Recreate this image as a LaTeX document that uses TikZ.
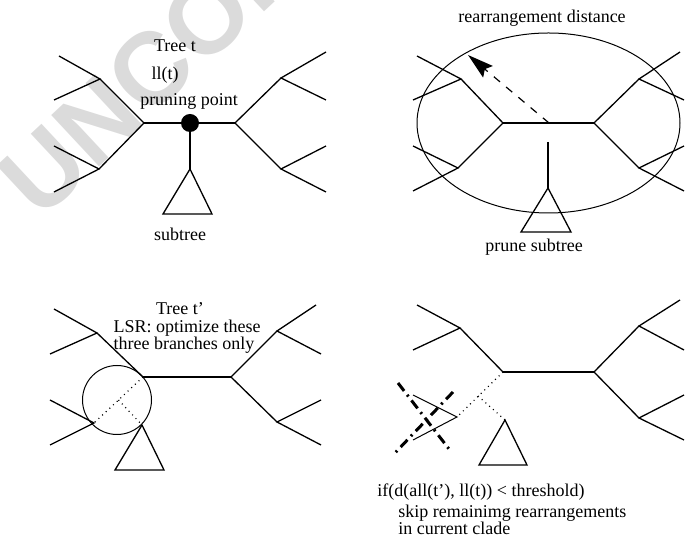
\documentclass[tikz,border=0pt]{standalone}
\usepackage{fontspec}
\setmainfont{Liberation Serif}
\newfontfamily\wmfont{Liberation Sans}
\usetikzlibrary{arrows.meta,shapes.geometric}
\begin{document}
\begin{tikzpicture}[x=0.5pt,y=-0.5pt,
  edge/.style={line width=0.65pt, line join=miter},
  outline/.style={line width=0.5pt},
  dots/.style={line width=0.6pt, dash pattern=on 0.5pt off 2pt},
  cross/.style={line width=1.5pt, dash pattern=on 5pt off 2.5pt on 1pt off 2.5pt},
  lbl/.style={font=\fontsize{9}{9}\selectfont, inner sep=0pt},
  wm/.style={font=\wmfont\bfseries\fontsize{51}{51}\selectfont, text=gray!28, inner sep=0pt}]
\useasboundingbox (0,0) rectangle (686,544);
% watermark
\begin{scope}
\clip (0,0) rectangle (686,544);
\node[wm, anchor=west, rotate=43] (wmark) at (16,196) {UNCORRECTED PROOF};
\end{scope}

% ---------- top-left: Tree t ----------
\coordinate (a1) at (144,123);
\coordinate (a2) at (235,123);
\coordinate (aLU) at (100,79);  \coordinate (aLUa) at (59,56);  \coordinate (aLUb) at (54,100);
\coordinate (aLL) at (99,169);  \coordinate (aLLa) at (54,146); \coordinate (aLLb) at (54,192);
\coordinate (aRU) at (281,78);  \coordinate (aRUa) at (326,52); \coordinate (aRUb) at (326,100);
\coordinate (aRL) at (281,169); \coordinate (aRLa) at (326,146); \coordinate (aRLb) at (326,192);
\coordinate (aT) at (190,169); \coordinate (aTb1) at (163,214); \coordinate (aTb2) at (212,214);
\node[circle, fill, inner sep=0pt, minimum size=9pt] (prune) at (190,123) {};
\draw[edge] (a1) -- (a2);
\draw[edge] (aLU) -- (a1) -- (aLL);
\draw[edge] (aRU) -- (a2) -- (aRL);
\draw[edge] (aLUa) -- (aLU) -- (aLUb);
\draw[edge] (aLLa) -- (aLL) -- (aLLb);
\draw[edge] (aRUa) -- (aRU) -- (aRUb);
\draw[edge] (aRLa) -- (aRL) -- (aRLb);
\draw[edge] (prune.center) -- (aT);
\draw[edge] (aT) -- (aTb1) -- (aTb2) -- cycle;
\node[lbl, anchor=base] (treet) at (175,52) {Tree t};
\node[lbl, anchor=base] (llt) at (165,80) {ll(t)};
\node[lbl, anchor=base] (pp) at (189,106) {pruning point};
\node[lbl, anchor=base] (sub) at (180,241) {subtree};

% ---------- top-right: prune subtree ----------
\coordinate (b1) at (503,123);
\coordinate (b2) at (594,123);
\coordinate (bLU) at (461,79);  \coordinate (bLUa) at (417,56);  \coordinate (bLUb) at (413,100);
\coordinate (bLL) at (458,168); \coordinate (bLLa) at (413,146); \coordinate (bLLb) at (413,191);
\coordinate (bRU) at (639,79);  \coordinate (bRUa) at (680,52);  \coordinate (bRUb) at (684,100);
\coordinate (bRL) at (639,168); \coordinate (bRLa) at (684,146); \coordinate (bRLb) at (684,191);
\coordinate (bV) at (548,142);
\coordinate (bT) at (548,188); \coordinate (bTb1) at (521,232); \coordinate (bTb2) at (571,232);
\coordinate (bA0) at (549,123); \coordinate (bA1) at (468,55);
\node[draw, outline, ellipse, minimum width=131.5pt, minimum height=90pt, inner sep=0pt] (ell) at (548.5,123) {};
\draw[edge] (b1) -- (b2);
\draw[edge] (bLU) -- (b1) -- (bLL);
\draw[edge] (bRU) -- (b2) -- (bRL);
\draw[edge] (bLUa) -- (bLU) -- (bLUb);
\draw[edge] (bLLa) -- (bLL) -- (bLLb);
\draw[edge] (bRUa) -- (bRU) -- (bRUb);
\draw[edge] (bRLa) -- (bRL) -- (bRLb);
\draw[edge] (bV) -- (bT);
\draw[edge] (bT) -- (bTb1) -- (bTb2) -- cycle;
\draw[line width=0.6pt, dash pattern=on 4pt off 4pt, -{Stealth[length=13pt,width=7.5pt,inset=2pt]}] (bA0) -- (bA1);
\node[lbl, anchor=base] (rd) at (542,23) {rearrangement distance};
\node[lbl, anchor=base] (ps) at (534,252) {prune subtree};

% ---------- bottom-left: Tree t' ----------
\coordinate (c1) at (143,377);
\coordinate (c2) at (231,377);
\coordinate (cLU) at (97,333);  \coordinate (cLUa) at (54,309);  \coordinate (cLUb) at (50,354);
\coordinate (cLL) at (94,423);  \coordinate (cLLa) at (50,400);  \coordinate (cLLb) at (50,445);
\coordinate (cRU) at (277,331); \coordinate (cRUa) at (316,305); \coordinate (cRUb) at (321,354);
\coordinate (cRL) at (277,422); \coordinate (cRLa) at (321,400); \coordinate (cRLb) at (321,445);
\coordinate (cM) at (118.5,400);
\coordinate (cT) at (142,425); \coordinate (cTb1) at (115,470); \coordinate (cTb2) at (164,470);
\node[draw, outline, circle, minimum size=34.5pt, inner sep=0pt] (circ) at (117,400) {};
\draw[edge] (c1) -- (c2);
\draw[edge] (cLU) -- (c1);
\draw[edge] (cRU) -- (c2) -- (cRL);
\draw[edge] (cLUa) -- (cLU) -- (cLUb);
\draw[edge] (cLLa) -- (cLL) -- (cLLb);
\draw[edge] (cRUa) -- (cRU) -- (cRUb);
\draw[edge] (cRLa) -- (cRL) -- (cRLb);
\draw[dots] (c1) -- (cLL);
\draw[dots] (cM) -- (cT);
\draw[edge] (cT) -- (cTb1) -- (cTb2) -- cycle;
\node[lbl, anchor=base] (tt) at (180,315) {Tree t’};
\node[lbl, anchor=base] (lsr1) at (187,333) {LSR: optimize these};
\node[lbl, anchor=base] (lsr2) at (184,350) {three branches only};

% ---------- bottom-right: skip ----------
\coordinate (d1) at (503,372);
\coordinate (d2) at (594,372);
\coordinate (dLU) at (460,328); \coordinate (dLUa) at (417,305); \coordinate (dLUb) at (413,350);
\coordinate (dLL) at (457,417); \coordinate (dLLa) at (413,395); \coordinate (dLLb) at (413,440);
\coordinate (dRU) at (639,326); \coordinate (dRUa) at (680,300); \coordinate (dRUb) at (684,350);
\coordinate (dRL) at (639,418); \coordinate (dRLa) at (684,395); \coordinate (dRLb) at (684,440);
\coordinate (dM) at (478,396);
\coordinate (dT) at (505,420); \coordinate (dTb1) at (479,465); \coordinate (dTb2) at (527,465);
\coordinate (x1a) at (398,383); \coordinate (x1b) at (449,449);
\coordinate (x2a) at (453,392); \coordinate (x2b) at (394,454);
\draw[edge] (d1) -- (d2);
\draw[edge] (dLU) -- (d1);
\draw[edge] (dRU) -- (d2) -- (dRL);
\draw[edge] (dLUa) -- (dLU) -- (dLUb);
\draw[outline] (dLLa) -- (dLL) -- (dLLb);
\draw[edge] (dRUa) -- (dRU) -- (dRUb);
\draw[edge] (dRLa) -- (dRL) -- (dRLb);
\draw[dots] (d1) -- (dLL);
\draw[dots] (dM) -- (dT);
\draw[edge] (dT) -- (dTb1) -- (dTb2) -- cycle;
\draw[cross] (x1a) -- (x1b);
\draw[cross] (x2a) -- (x2b);
\node[lbl, anchor=base west] (cond) at (377,497) {if(d(all(t’), ll(t)) < threshold)};
\node[lbl, anchor=base west] (skip1) at (398,518) {skip remainimg rearrangements};
\node[lbl, anchor=base west] (skip2) at (398,535) {in current clade};
\end{tikzpicture}
\end{document}
